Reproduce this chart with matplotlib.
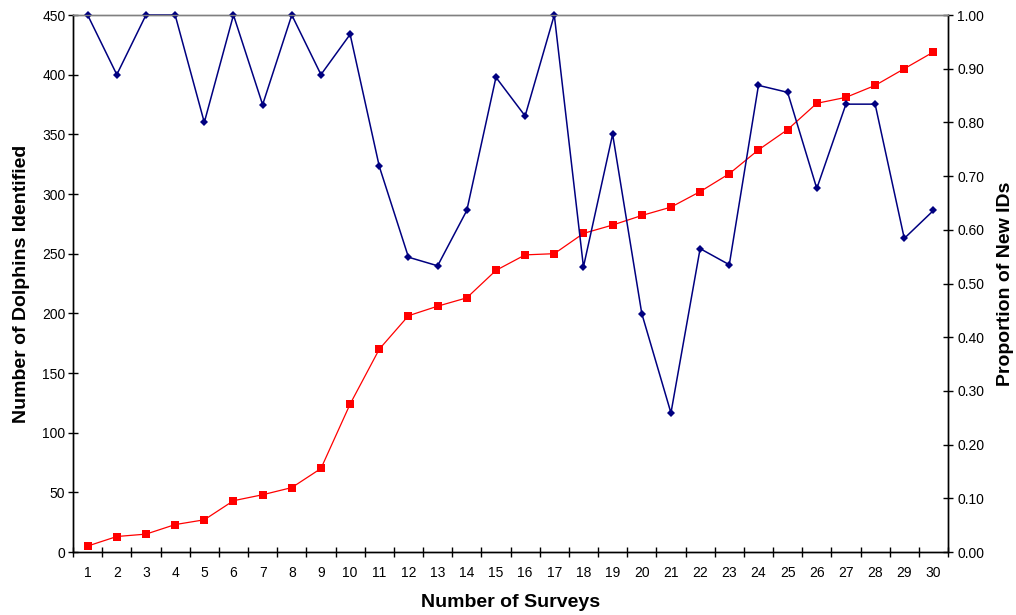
import numpy as np
import matplotlib.pyplot as plt

plt.rcParams['font.family'] = ['Liberation Sans', 'DejaVu Sans']

# survey number, cumulative dolphins identified, proportion of new IDs per survey
surveys = list(range(1, 31))
dolphins = [5, 13, 15, 23, 27, 43, 48, 54, 70, 124,
            170, 198, 206, 213, 236, 249, 250, 267, 274, 282,
            289, 302, 317, 337, 354, 376, 381, 391, 405, 419]
prop_new = [1.00, 0.889, 1.00, 1.00, 0.80, 1.00, 0.833, 1.00, 0.889, 0.964,
            0.718, 0.549, 0.533, 0.636, 0.884, 0.812, 1.00, 0.531, 0.778, 0.444,
            0.259, 0.565, 0.535, 0.869, 0.856, 0.677, 0.834, 0.834, 0.584, 0.636]

left_ticks = np.arange(0, 451, 50)
right_ticks = np.arange(0, 1.01, 0.1)

fig = plt.figure(figsize=(10.16, 6.15), dpi=100)
ax = fig.add_axes([0.0719, 0.1024, 0.8612, 0.8732])
ax2 = ax.twinx()

ax.plot(surveys, dolphins, color='#FF0000', lw=0.9, marker='s', ms=5.8,
        markeredgewidth=0, clip_on=False)
ax2.plot(surveys, prop_new, color='#000080', lw=1.1, marker='D', ms=3.8,
         markeredgewidth=0, clip_on=False)

ax.set_xlim(0.5, 30.5)
ax.set_ylim(0, 450)
ax2.set_ylim(0, 1.0)

# category axis: ticks between surveys, labels centred on them
ax.set_xticks(np.arange(0.5, 31, 1))
ax.set_xticklabels([])
ax.set_xticks(surveys, minor=True)
ax.set_xticklabels([str(s) for s in surveys], minor=True)
ax.tick_params(axis='x', which='major', direction='inout', length=7, width=1)
ax.tick_params(axis='x', which='minor', length=0, pad=10, labelsize=10)

ax.set_yticks(left_ticks)
ax.tick_params(axis='y', direction='inout', length=7, width=1, pad=2, labelsize=10)
ax2.set_yticks(right_ticks)
ax2.set_yticklabels([f'{v:.2f}' for v in right_ticks])
ax2.tick_params(axis='y', direction='inout', length=7, width=1, pad=3, labelsize=10)

for a in (ax, ax2):
    a.spines['top'].set_color('#808080')
    a.spines['top'].set_linewidth(1)
    for s in ('left', 'right', 'bottom'):
        a.spines[s].set_linewidth(1)

ax.set_xlabel('Number of Surveys', fontsize=14, fontweight='bold', labelpad=10)
ax.set_ylabel('Number of Dolphins Identified', fontsize=14, fontweight='bold', labelpad=9)
ax2.set_ylabel('Proportion of New IDs', fontsize=14, fontweight='bold', labelpad=9)

fig.savefig('out.png', dpi=100)
